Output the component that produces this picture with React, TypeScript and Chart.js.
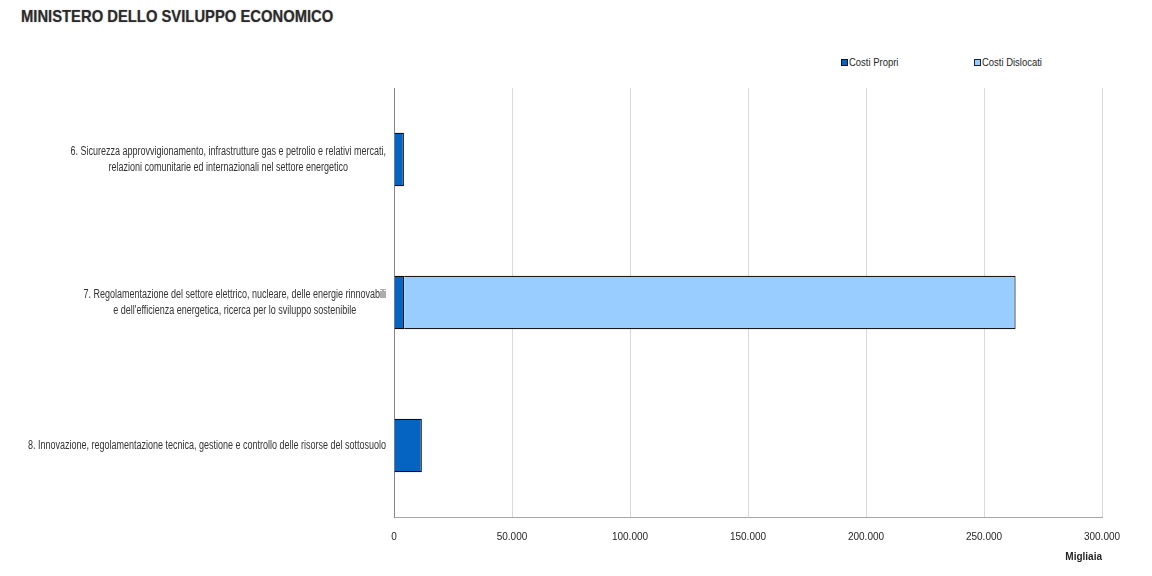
import React, { useEffect, useRef } from "react";
import { Chart, registerables } from "chart.js";

Chart.register(...registerables);

const categories: string[][] = [
  ["6. Sicurezza approvvigionamento, infrastrutture gas e petrolio e relativi mercati,", "relazioni comunitarie ed internazionali nel settore energetico"],
  ["7. Regolamentazione del settore elettrico, nucleare, delle energie rinnovabili", "e dell'efficienza energetica, ricerca per lo sviluppo sostenibile"],
  ["8. Innovazione, regolamentazione tecnica, gestione e controllo delle risorse del sottosuolo"],
];
const costiPropri: number[] = [4200, 4300, 11800];
const costiDislocati: number[] = [0, 259100, 0];
const xTicks: number[] = [0, 50000, 100000, 150000, 200000, 250000, 300000];

const FONT = "'Liberation Sans', Arial, sans-serif";

const fmt = (v: number) => String(Math.round(v)).replace(/\B(?=(\d{3})+(?!\d))/g, ".");

const labelPlugin = {
  id: "centeredLabels",
  afterDraw(chart: any) {
    const scale = chart.scales.y;
    const ctx = chart.ctx;
    ctx.save();
    ctx.font = `12px ${FONT}`;
    ctx.fillStyle = "#333333";
    ctx.textAlign = "center";
    ctx.textBaseline = "middle";
    const right = chart.chartArea.left - 8;
    const lh = 16;
    const ref = ctx.measureText(categories[2][0]).width;
    const k = 358 / ref;
    categories.forEach((lines, i) => {
      const y = scale.getPixelForTick(i);
      const widest = Math.max(...lines.map((l) => ctx.measureText(l).width)) * k;
      const cx = right - widest / 2;
      const y0 = y - ((lines.length - 1) * lh) / 2;
      lines.forEach((l, j) => {
        ctx.save();
        ctx.translate(cx, y0 + j * lh);
        ctx.scale(k, 1);
        ctx.fillText(l, 0, 0);
        ctx.restore();
      });
    });
    ctx.restore();
  },
};

export default function App() {
  const ref = useRef<HTMLCanvasElement | null>(null);
  useEffect(() => {
    document.body.style.margin = "0";
    if (!ref.current) return;
    const chart = new Chart(ref.current, {
      type: "bar",
      data: {
        labels: categories,
        datasets: [
          { label: "Costi Propri", data: costiPropri, backgroundColor: "#0563C1", borderColor: "#0a0a0a", borderWidth: 1.2 },
          { label: "Costi Dislocati", data: costiDislocati, backgroundColor: "#99CCFF", borderColor: "#1a1a1a", borderWidth: 1.2 },
        ],
      },
      options: {
        indexAxis: "y",
        animation: false,
        responsive: true,
        maintainAspectRatio: false,
        layout: { padding: { top: 88, right: 50, bottom: 0, left: 0 } },
        datasets: { bar: { categoryPercentage: 0.375, barPercentage: 1 } },
        plugins: { legend: { display: false }, tooltip: { enabled: false } },
        scales: {
          x: {
            stacked: true,
            min: 0,
            max: 300000,
            afterBuildTicks: (s: any) => { s.ticks = xTicks.map((v) => ({ value: v })); },
            afterFit: (s: any) => { s.height = 59; },
            grid: { color: "#d9d9d9", drawTicks: false, lineWidth: 1 },
            border: { color: "#a6a6a6" },
            ticks: { padding: 14, color: "#262626", font: { family: FONT, size: 10 }, callback: (v: any) => fmt(Number(v)), maxRotation: 0 },
            title: { display: true, text: "Migliaia", align: "end", color: "#262626", font: { family: FONT, size: 10, weight: "bold" }, padding: { top: 0, bottom: 13 } },
          },
          y: {
            stacked: true,
            afterFit: (s: any) => { s.width = 394; },
            grid: { display: false, drawTicks: false },
            border: { color: "#868686" },
            ticks: { display: false },
          },
        },
      },
      plugins: [labelPlugin],
    } as any);
    return () => chart.destroy();
  }, []);

  const legendText: React.CSSProperties = { display: "inline-block", transform: "scaleX(0.86)", transformOrigin: "left center", whiteSpace: "nowrap" };

  return (
    <div style={{ position: "relative", width: 1152, height: 576, background: "#fff", fontFamily: FONT }}>
      <div style={{ position: "absolute", left: 21, top: 7, fontSize: 17, fontWeight: "bold", color: "#2b2b2b", transform: "scaleX(0.87)", transformOrigin: "left top", whiteSpace: "nowrap", textShadow: "0 0 1.5px rgba(0,0,0,0.35)" }}>
        MINISTERO DELLO SVILUPPO ECONOMICO
      </div>
      <div style={{ position: "absolute", left: 841, top: 56, fontSize: 11, color: "#262626", display: "flex", alignItems: "center" }}>
        <span style={{ width: 5, height: 5, background: "#0563C1", border: "1px solid #111", display: "inline-block", marginRight: 1 }} />
        <span style={legendText}>Costi Propri</span>
      </div>
      <div style={{ position: "absolute", left: 974, top: 56, fontSize: 11, color: "#262626", display: "flex", alignItems: "center" }}>
        <span style={{ width: 5, height: 5, background: "#99CCFF", border: "1px solid #222", display: "inline-block", marginRight: 1 }} />
        <span style={legendText}>Costi Dislocati</span>
      </div>
      <div style={{ position: "absolute", left: 0, top: 0, width: 1152, height: 576 }}>
        <canvas ref={ref} />
      </div>
    </div>
  );
}
